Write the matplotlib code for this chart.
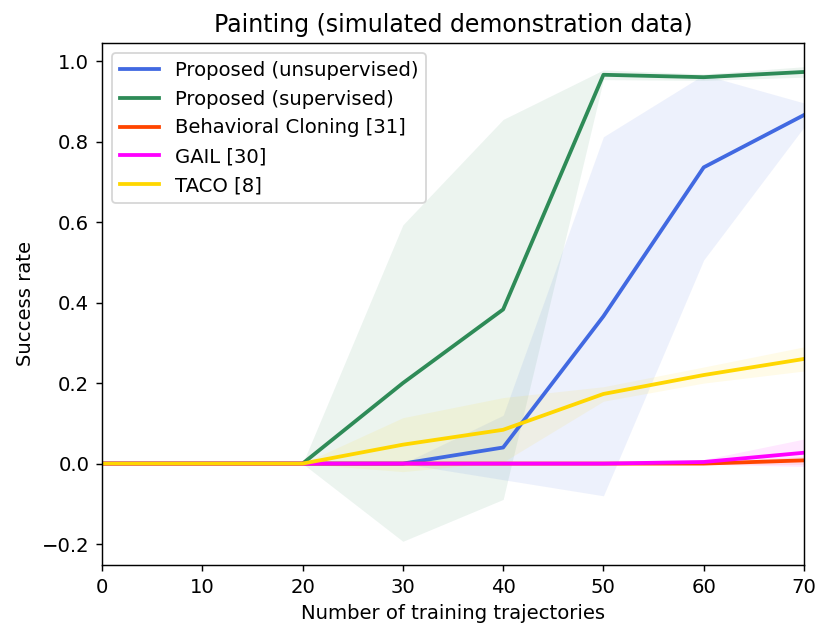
import matplotlib
matplotlib.use("Agg")
import matplotlib.pyplot as plt
import numpy as np

x = [0, 10, 20, 30, 40, 50, 60, 70]

labels = ["Proposed (unsupervised)", "Proposed (supervised)",
          "Behavioral Cloning [31]", "GAIL [30]", "TACO [8]"]
colors = ["#4169E1", "#2E8B57", "#FF4500", "#FF00FF", "#FFD700"]

unsup_mean = [0, 0, 0, 0.0, 0.040, 0.366, 0.736, 0.866]
unsup_std = [0, 0, 0, 0.0, 0.080, 0.446, 0.230, 0.030]
sup_mean = [0, 0, 0, 0.200, 0.383, 0.966, 0.960, 0.973]
sup_std = [0, 0, 0, 0.393, 0.472, 0.012, 0.008, 0.013]
bc_mean = [0, 0, 0, 0, 0, 0, 0.0, 0.008]
bc_std = [0, 0, 0, 0, 0, 0, 0.002, 0.010]
gail_mean = [0, 0, 0, 0, 0, 0, 0.004, 0.027]
gail_std = [0, 0, 0, 0, 0, 0, 0.006, 0.034]
taco_mean = [0, 0, 0, 0.047, 0.084, 0.173, 0.220, 0.260]
taco_std = [0, 0, 0, 0.067, 0.080, 0.018, 0.020, 0.030]

means = [unsup_mean, sup_mean, bc_mean, gail_mean, taco_mean]
stds = [unsup_std, sup_std, bc_std, gail_std, taco_std]

fs = 10.9
plt.rcParams["font.size"] = fs

fig = plt.figure(figsize=(830 / 130, 640 / 130), dpi=130)
ax = fig.add_axes([102 / 830, 75 / 640, 702 / 830, 522 / 640])

for m, s, c, lab in zip(means, stds, colors, labels):
    m = np.array(m)
    s = np.array(s)
    ax.plot(x, m, color=c, lw=2.1, label=lab)
    ax.fill_between(x, m - s, m + s, color=c, alpha=0.09, lw=0)

ax.set_xlim(0, 70)
ax.tick_params(labelsize=fs)
ax.set_title("Painting (simulated demonstration data)", fontsize=13.1)
ax.set_xlabel("Number of training trajectories", fontsize=fs)
ax.set_ylabel("Success rate", fontsize=fs)
ax.legend(loc="upper left", fontsize=fs)

fig.savefig("out.png", dpi=130)
